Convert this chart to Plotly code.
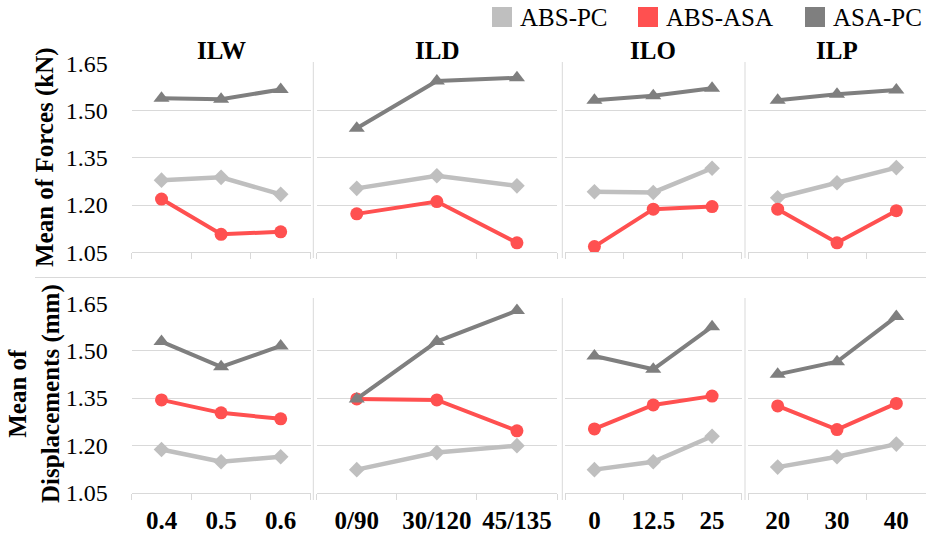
import plotly.graph_objects as go

W, H = 926, 537
FONT = "Liberation Serif"

groups = ["ILW", "ILD", "ILO", "ILP"]
cats = [["0.4", "0.5", "0.6"],
        ["0/90", "30/120", "45/135"],
        ["0", "12.5", "25"],
        ["20", "30", "40"]]
series = ["ABS-PC", "ABS-ASA", "ASA-PC"]

force_abs_pc = [[1.279, 1.288, 1.234], [1.253, 1.293, 1.261], [1.242, 1.240, 1.317], [1.223, 1.271, 1.319]]
force_abs_asa = [[1.219, 1.107, 1.115], [1.172, 1.211, 1.080], [1.068, 1.187, 1.195], [1.187, 1.080, 1.182]]
force_asa_pc = [[1.539, 1.536, 1.567], [1.444, 1.594, 1.604], [1.533, 1.547, 1.571], [1.533, 1.552, 1.565]]
disp_abs_pc = [[1.187, 1.148, 1.164], [1.123, 1.177, 1.199], [1.123, 1.148, 1.229], [1.131, 1.164, 1.204]]
disp_abs_asa = [[1.344, 1.303, 1.284], [1.347, 1.344, 1.246], [1.252, 1.328, 1.356], [1.325, 1.250, 1.333]]
disp_asa_pc = [[1.529, 1.449, 1.515], [1.347, 1.529, 1.627], [1.483, 1.441, 1.576], [1.425, 1.465, 1.608]]
y_ticks = [1.05, 1.20, 1.35, 1.50, 1.65]
y_tick_text = ["1.05", "1.20", "1.35", "1.50", "1.65"]
row_titles = ["Mean of Forces (kN)", "Mean of<br>Displacements (mm)"]

colors = {"ABS-PC": "#BFBFBF", "ABS-ASA": "#FF5050", "ASA-PC": "#7F7F7F"}
symbols = {"ABS-PC": "diamond", "ABS-ASA": "circle", "ASA-PC": "triangle-up"}
msize = {"ABS-PC": 12, "ABS-ASA": 13, "ASA-PC": 14}
lwidth = {"ABS-PC": 4.5, "ABS-ASA": 4, "ASA-PC": 4}

rows_data = [
    {"ABS-PC": force_abs_pc, "ABS-ASA": force_abs_asa, "ASA-PC": force_asa_pc},
    {"ABS-PC": disp_abs_pc, "ABS-ASA": disp_abs_asa, "ASA-PC": disp_asa_pc},
]

# pixel layout
x_dom_px = [(131.7, 310.5), (316.7, 557.0), (565.0, 741.5), (748.0, 926.0)]
y_dom_px = [(63.3, 252.3), (303.3, 492.7)]  # (top, bottom) in px from top
legend_sq_px = {"ABS-PC": 492, "ABS-ASA": 638, "ASA-PC": 805}

def fx(px):
    return px / W

def fy(px):
    return 1 - px / H

fig = go.Figure()
layout = {}
GRID = "#D9D9D9"

for r in range(2):
    for c in range(4):
        k = r * 4 + c + 1
        xa = "x" if k == 1 else f"x{k}"
        ya = "y" if k == 1 else f"y{k}"
        for s in series:
            fig.add_trace(go.Scatter(
                x=cats[c], y=rows_data[r][s][c],
                xaxis=xa, yaxis=ya, mode="lines+markers",
                line=dict(color=colors[s], width=lwidth[s]),
                marker=dict(symbol=symbols[s], size=msize[s], color=colors[s]),
                showlegend=False, name=s, hoverinfo="x+y+name",
            ))
        xkey = "xaxis" if k == 1 else f"xaxis{k}"
        ykey = "yaxis" if k == 1 else f"yaxis{k}"
        layout[xkey] = dict(
            domain=[fx(x_dom_px[c][0]), fx(x_dom_px[c][1])],
            anchor=ya, type="category", range=[-0.5, 2.5],
            categoryorder="array", categoryarray=cats[c],
            showgrid=False, showline=True, linecolor=GRID, linewidth=1,
            ticks="outside", tickson="boundaries", ticklen=6, tickcolor=GRID,
            showticklabels=(r == 1),
            tickfont=dict(family=FONT, size=25, color="black", weight="bold"),
            ticklabelstandoff=5, automargin=False,
            zeroline=False, fixedrange=True,
        )
        layout[ykey] = dict(
            domain=[fy(y_dom_px[r][1]), fy(y_dom_px[r][0])],
            anchor=xa, range=[1.0499, 1.6502],
            tickvals=y_ticks, ticktext=y_tick_text,
            showgrid=True, gridcolor=GRID, gridwidth=1,
            showline=False, zeroline=False, ticks="",
            showticklabels=(c == 0),
            tickfont=dict(family=FONT, size=24, color="black"),
            ticklabelstandoff=23, automargin=False, fixedrange=True,
        )

annotations = []
shapes = []

# legend: square swatches + labels
for s in series:
    x0 = legend_sq_px[s]
    shapes.append(dict(type="rect", xref="paper", yref="paper",
                       x0=fx(x0), x1=fx(x0 + 20), y0=fy(27), y1=fy(7),
                       line=dict(width=0), fillcolor=colors[s]))
    annotations.append(dict(
        x=fx(x0 + 26), y=fy(17.5), xref="paper", yref="paper", text=s,
        showarrow=False, font=dict(family=FONT, size=25, color="black"),
        xanchor="left", yanchor="middle",
    ))

for c, g in enumerate(groups):
    annotations.append(dict(
        x=fx((x_dom_px[c][0] + x_dom_px[c][1]) / 2), y=fy(51),
        xref="paper", yref="paper", text=f"<b>{g}</b>", showarrow=False,
        font=dict(family=FONT, size=25, color="black"),
        xanchor="center", yanchor="middle",
    ))
annotations.append(dict(
    x=fx(45), y=fy(157), xref="paper", yref="paper", text=f"<b>{row_titles[0]}</b>",
    showarrow=False, textangle=-90, font=dict(family=FONT, size=25, color="black"),
    xanchor="center", yanchor="middle",
))
annotations.append(dict(
    x=fx(34), y=fy(394), xref="paper", yref="paper", text=f"<b>{row_titles[1]}</b>",
    showarrow=False, textangle=-90, font=dict(family=FONT, size=25, color="black"),
    xanchor="center", yanchor="middle",
))

for xs in [313.3, 562.3, 745.0]:
    for (y0, y1) in [(62, 258), (298, 500)]:
        shapes.append(dict(type="line", xref="paper", yref="paper",
                           x0=fx(xs), x1=fx(xs), y0=fy(y0), y1=fy(y1),
                           line=dict(color=GRID, width=1)))
shapes.append(dict(type="line", xref="paper", yref="paper",
                   x0=fx(35), x1=1, y0=fy(277.5), y1=fy(277.5),
                   line=dict(color=GRID, width=1)))

fig.update_layout(
    width=W, height=H,
    margin=dict(l=0, r=0, t=0, b=0, autoexpand=False),
    paper_bgcolor="white", plot_bgcolor="white",
    font=dict(family=FONT, size=24, color="black"),
    showlegend=False,
    annotations=annotations, shapes=shapes,
    **layout,
)

fig.write_html(
    "out.html",
    config={"displayModeBar": False},
    post_script="document.body.style.margin='0px';document.body.style.overflow='hidden';",
)
